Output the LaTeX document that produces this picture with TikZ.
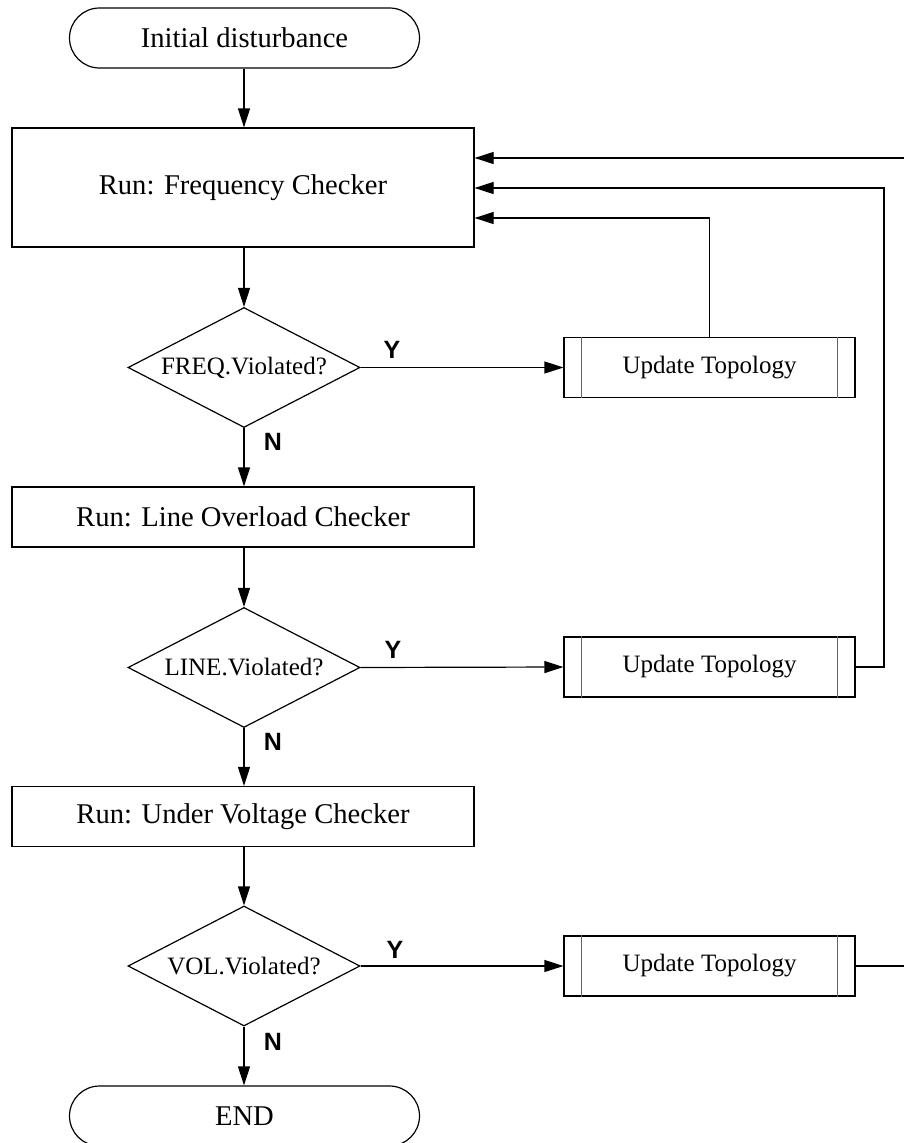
\documentclass[tikz,border=0pt]{standalone}
\usepackage{fontspec}
\setmainfont{Liberation Serif}
\newfontfamily\ynfont{Liberation Sans}
\usetikzlibrary{shapes.geometric,arrows.meta}
\begin{document}
\begin{tikzpicture}[x=1pt,y=-1pt,
  line width=1.2pt,
  >={Triangle[length=19pt,width=12pt]},
  term/.style={draw,rounded corners=30pt,minimum width=350pt,minimum height=60pt,inner sep=0pt,font=\fontsize{28.6}{32}\selectfont},
  proc/.style={draw,minimum width=462pt,inner sep=0pt,font=\fontsize{28.6}{32}\selectfont},
  dec/.style={draw,diamond,aspect=1.93,minimum width=232pt,minimum height=120pt,inner sep=0pt,font=\fontsize{25}{28}\selectfont},
  upd/.style={draw,minimum width=291pt,minimum height=60pt,inner sep=0pt,font=\fontsize{25}{29}\selectfont},
  yn/.style={font=\ynfont\bfseries\fontsize{25}{29}\selectfont},
  inner/.style={line width=1pt,draw=black!60}]
\useasboundingbox (0,0) rectangle (904,1143);
\fill[white] (0,0) rectangle (904,1143);

\node[term] (init) at (244.5,38) {Initial disturbance};
\node[proc,minimum height=119pt] (freq) at (243,187.5) {Run: Frequency Checker};
\node[dec] (d1) at (244,367.5) {FREQ.Violated?};
\node[proc,minimum height=60pt] (lol) at (243,517) {Run: Line Overload Checker};
\node[dec] (d2) at (244,667.5) {LINE.Violated?};
\node[proc,minimum height=60pt] (uvc) at (243,816.5) {Run: Under Voltage Checker};
\node[dec] (d3) at (244,966) {VOL.Violated?};
\node[term] (end) at (244.5,1116) {END};

\node[upd] (u1) at (709.5,367.5) {Update Topology};
\node[upd] (u2) at (709.5,667) {Update Topology};
\node[upd] (u3) at (709.5,966) {Update Topology};
\foreach \u in {u1,u2,u3}{
  \draw[inner] ([xshift=18pt]\u.north west) -- ([xshift=18pt]\u.south west);
  \draw[inner] ([xshift=-18pt]\u.north east) -- ([xshift=-18pt]\u.south east);
}

\draw[->] (init.south -| d1.north) -- (d1.north |- freq.north);
\draw[->] (d1.north |- freq.south) -- (d1.north);
\draw[->] (d1.south) -- (d1.south |- lol.north);
\draw[->] (d2.north |- lol.south) -- (d2.north);
\draw[->] (d2.south) -- (d2.south |- uvc.north);
\draw[->] (d3.north |- uvc.south) -- (d3.north);
\draw[->] (d3.south) -- (d3.south |- end.north);

\draw[->] (d1.east) -- (u1.west);
\draw[->] (d2.east) -- (u2.west);
\draw[->] (d3.east) -- (u3.west);

\coordinate (r2) at (884,0);
\coordinate (r3) at (906,0);
\draw[->] (u1.north) |- (freq.east |- 0,218);
\draw[->] (u2.east) -| (r2 |- 0,188) -- (freq.east |- 0,188);
\draw[->] (u3.east) -| (r3 |- 0,158) -- (freq.east |- 0,158);

\node[yn] (y1) at (392,350) {Y};
\node[yn] (y2) at (393,650) {Y};
\node[yn] (y3) at (395,950) {Y};
\node[yn] (n1) at (273,442) {N};
\node[yn] (n2) at (273,742) {N};
\node[yn] (n3) at (273,1042) {N};
\end{tikzpicture}
\end{document}
